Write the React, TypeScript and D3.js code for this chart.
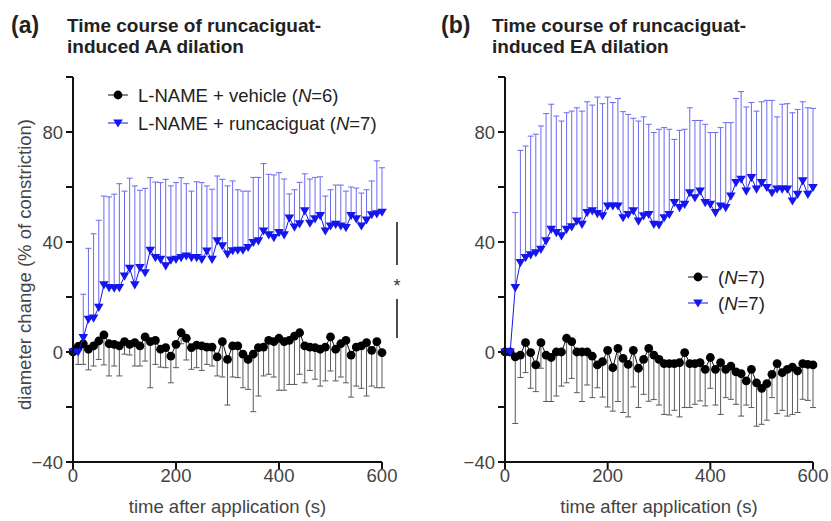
import React from 'react';
import * as d3 from 'd3';

const TIME = [0, 10, 20, 30, 40, 50, 60, 70, 80, 90, 100, 110, 120, 130, 140, 150, 160, 170, 180, 190, 200, 210, 220, 230, 240, 250, 260, 270, 280, 290, 300, 310, 320, 330, 340, 350, 360, 370, 380, 390, 400, 410, 420, 430, 440, 450, 460, 470, 480, 490, 500, 510, 520, 530, 540, 550, 560, 570, 580, 590, 600];

// Panel (a) AA
const AA_VEH_MEAN = [0, 2, 3.0, 1.0, 2.2, 4.0, 6.2, 3.0, 2.8, 2.2,
  3.8, 2.8, 3.4, 2.2, 5.5, 3.8, 4.2, 1.0, 1.6, -1.5,
  2.8, 7.0, 5.0, 1.6, 2.5, 2.2, 1.8, 1.8, -1.8, 3.8,
  -2.7, 2.2, 2.2, -0.8, -2.7, -0.8, 1.6, 1.8, 4.2, 3.8,
  5.0, 3.8, 4.2, 5.8, 7.0, 2.2, 1.8, 1.6, 1.0, 1.8,
  5.5, 1.0, 3.0, 4.2, -1.1, 1.8, 2.2, 3.4, 0.6, 3.8,
  -0.2];
const AA_VEH_LOW = [0, -4.5, -4.5, -6.5, -5.1, -2.7, -4.7, -8.7, -5.1, -8.7,
  -0.8, -1.1, -5.1, -5.1, -3.3, -13, -4.5, -5.5, -5.7, -11.2,
  -5.7, 3, -2.9, -6.3, -5.7, -6.7, -4.5, -5.1, -8.7, -9.1,
  -19.3, -9.1, -9.3, -13, -13.6, -21.7, -16, -8.7, -8.1, -9.1,
  -13.9, -13.9, -11.8, -11.8, -8.1, -11.2, -6.7, -9.9, -12.4, -10.5,
  -6.9, -10.5, -9.1, -11.2, -16.4, -12.4, -13.2, -16, -12.4, -13,
  -13];
const AA_RUN_MEAN = [0, 0, 5.2, 11.9, 12.3, 16.2, 24.4, 23.4, 23.2, 23.4,
  27.6, 30.4, 24.4, 30.7, 28.8, 37, 34.3, 33.7, 31.3, 33.4,
  33.7, 34.3, 34.9, 34.3, 34.3, 33.7, 36.7, 33.7, 40.4, 38.6,
  35.6, 36.8, 37, 37, 38, 39.8, 40.4, 44, 42.6, 41.6,
  43.4, 42.6, 48.7, 45.4, 46.6, 51.3, 46.8, 48.4, 49.6, 44,
  45.8, 46.4, 45.8, 45.2, 49.6, 48.4, 45.8, 48, 49.9, 50.2,
  50.8];
const AA_RUN_HIGH = [0, 0, 21, 37.7, 43, 47.9, 56.7, 56.4, 57.4, 61.2,
  58.5, 63.2, 60.4, 58.8, 59.5, 63.4, 61.8, 61.6, 62.8, 60.4,
  61.6, 63.4, 61.2, 58.5, 61.9, 61.6, 60.4, 59.2, 64, 62.8,
  60.4, 62.2, 59, 58.5, 58.5, 63.5, 63.5, 68.5, 64.6, 64.4,
  65.2, 62.9, 57.5, 59, 61.7, 64.8, 62.9, 63.5, 63.7, 56.7,
  59, 60.7, 60.7, 58.5, 60, 59.6, 57.8, 59, 62.2, 69.5,
  67];

// Panel (b) EA
const EA_VEH_MEAN = [0, 0, -1.8, -1.1, 3.4, -0.2, -4.7, 3.4, -1.1, -2.0,
  0, 0, 5.0, 3.8, 0, 0, 0, -1.5, -4.7, -3.5,
  0.6, -5.7, 1.3, -2.3, -4.5, 0.6, -5.9, -2.7, 1.3, -1.1,
  -2.7, -4.2, -4.2, -4.2, -3.9, -0.2, -4.2, -4.2, -3.9, -6.3,
  -2.0, -6.3, -3.9, -6.3, -5.1, -7.2, -7.9, -10.5, -6.3, -11.2,
  -13.2, -11.5, -8.1, -4.2, -7.5, -6.3, -5.5, -6.9, -4.2, -4.5,
  -4.7];
const EA_VEH_LOW = [0, 0, -26, -9.3, -7.5, -13.2, -14.4, -5.9, -18, -18,
  -16, -12.4, -11.2, -9.6, -14.8, -18, -12, -16.6, -13, -16.4,
  -20, -21.5, -18, -22, -23.6, -12.7, -20.2, -15.4, -17.9, -17.3,
  -19.3, -22.7, -22.9, -21.2, -23.6, -20.2, -20.2, -19, -17.8, -19.6,
  -13.2, -19.3, -22.7, -16.6, -17.2, -19, -23.3, -19.3, -20.2, -27,
  -26.3, -24.8, -16.6, -22.4, -21.2, -23.3, -22.7, -22, -17.2, -17.6,
  -20.2];
const EA_RUN_MEAN = [0, 0, 23.4, 32.5, 34.3, 35.3, 36.1, 37.3, 40.4, 44.6,
  43.4, 42.2, 44.6, 45.5, 47.6, 46.4, 50.7, 51.3, 50.3, 49.5,
  53.1, 53.1, 53.1, 48.8, 50, 51.3, 47.6, 49.5, 50, 46.4,
  46.2, 48.8, 50, 54.3, 52.5, 53.7, 57.9, 56.1, 58.5, 54.3,
  53.7, 50.7, 53.1, 52.5, 56.7, 61.6, 62.8, 58.5, 63.4, 59.2,
  61.6, 59.8, 57.9, 59.2, 59.2, 59.2, 54.9, 57.3, 62.2, 57.3,
  59.8];
const EA_RUN_HIGH = [0, 0, 50.7, 73.3, 74.9, 78.5, 79.2, 82.2, 86.7, 90.1,
  85.8, 84, 87, 87.6, 88.8, 87.6, 91, 89.8, 92.7, 90.3,
  92.7, 90.7, 92.2, 87.4, 86.4, 85, 84, 85.5, 82.8, 79.8,
  81, 81.6, 81, 77.3, 80.6, 81, 88.8, 84.2, 84.2, 82.8,
  79.8, 79.8, 81.6, 83.4, 83.4, 92.2, 94.7, 89.1, 90.7, 87.6,
  91, 91.5, 91.5, 85.5, 90.1, 90.3, 87, 88.2, 91, 88.8,
  88.6];

const Y_MAJOR = [-40, 0, 40, 80];
const Y_MINOR = [-20, 20, 60, 100];
const X_TICKS = [0, 200, 400, 600];

const FONT = 'Liberation Sans, Arial, Helvetica, sans-serif';
const BLUE = '#1515ee';
const BLUE_ERR = '#6a6af0';
const GREY_ERR = '#5a5a5a';

type PanelProps = {
  x0: number; x1: number;
  vehMean: number[]; vehLow: number[];
  runMean: number[]; runHigh: number[];
  letter: string; letterX: number; titleX: number;
  title1: string; title2: string;
  showYLabel: boolean;
  legend: React.ReactNode;
};

function tri(x: number, y: number, s = 4.8) {
  return `M${x - s},${y - s * 0.75} L${x + s},${y - s * 0.75} L${x},${y + s * 0.95} Z`;
}

function Panel(p: PanelProps) {
  const x = d3.scaleLinear().domain([0, 600]).range([p.x0, p.x1]);
  const y = d3.scaleLinear().domain([-40, 100]).range([462, 77]);
  const line = d3.line<number>().x((_, i) => x(TIME[i])).y((d) => y(d));
  const cap = 3;
  return (
    <g>
      <text x={p.letterX} y={33} fontFamily={FONT} fontWeight="bold" fontSize={23} fill="#222">{p.letter}</text>
      <text x={p.titleX} y={32} fontFamily={FONT} fontWeight="bold" fontSize={19} fill="#222">{p.title1}</text>
      <text x={p.titleX} y={53} fontFamily={FONT} fontWeight="bold" fontSize={19} fill="#222">{p.title2}</text>

      {TIME.map((t, i) => p.vehLow[i] < p.vehMean[i] ? (
        <g key={'ve' + i} stroke={GREY_ERR} strokeWidth={1}>
          <line x1={x(t)} x2={x(t)} y1={y(p.vehMean[i])} y2={y(p.vehLow[i])} />
          <line x1={x(t) - cap} x2={x(t) + cap} y1={y(p.vehLow[i])} y2={y(p.vehLow[i])} />
        </g>
      ) : null)}
      {TIME.map((t, i) => p.runHigh[i] > p.runMean[i] ? (
        <g key={'re' + i} stroke={BLUE_ERR} strokeWidth={1}>
          <line x1={x(t)} x2={x(t)} y1={y(p.runMean[i])} y2={y(p.runHigh[i])} />
          <line x1={x(t) - cap} x2={x(t) + cap} y1={y(p.runHigh[i])} y2={y(p.runHigh[i])} />
        </g>
      ) : null)}

      <path d={line(p.vehMean) || ''} fill="none" stroke="#111" strokeWidth={1} />
      {TIME.map((t, i) => (
        <circle key={'vm' + i} cx={x(t)} cy={y(p.vehMean[i])} r={4.4} fill="#000" />
      ))}
      <path d={line(p.runMean) || ''} fill="none" stroke={BLUE} strokeWidth={1} />
      {TIME.map((t, i) => (
        <path key={'rm' + i} d={tri(x(t), y(p.runMean[i]))} fill={BLUE} />
      ))}

      <line x1={p.x0} x2={p.x0} y1={y(100)} y2={y(-40)} stroke="#111" strokeWidth={2} />
      {Y_MAJOR.concat(Y_MINOR).map((v) => (
        <line key={'yt' + v} x1={p.x0 - 7} x2={p.x0} y1={y(v)} y2={y(v)} stroke="#111" strokeWidth={2} />
      ))}
      {Y_MAJOR.map((v) => (
        <text key={'yl' + v} x={p.x0 - 10} y={y(v) + 6.5} textAnchor="end" fontFamily={FONT} fontSize={18.5} fill="#444">
          {v < 0 ? '\u2212' + Math.abs(v) : v}
        </text>
      ))}
      <line x1={p.x0} x2={x(600)} y1={y(-40)} y2={y(-40)} stroke="#111" strokeWidth={2} />
      {X_TICKS.map((v) => (
        <line key={'xt' + v} x1={x(v)} x2={x(v)} y1={y(-40)} y2={y(-40) + 7} stroke="#111" strokeWidth={2} />
      ))}
      {X_TICKS.map((v) => (
        <text key={'xl' + v} x={x(v)} y={482} textAnchor="middle" fontFamily={FONT} fontSize={18.5} fill="#444">{v}</text>
      ))}
      <text x={(x(0) + x(600)) / 2} y={513} textAnchor="middle" fontFamily={FONT} fontSize={18.5} fill="#444">
        time after application (s)
      </text>
      {p.showYLabel && (
        <text transform={`translate(31,${(y(100) + y(-40)) / 2 - 5}) rotate(-90)`} textAnchor="middle" fontFamily={FONT} fontSize={18.5} fill="#444">
          diameter change (% of constriction)
        </text>
      )}
      {p.legend}
    </g>
  );
}

function LegendRow({ x, y, kind, children }: { x: number; y: number; kind: 'veh' | 'run'; children: React.ReactNode }) {
  return (
    <g>
      <line x1={x - 10} x2={x + 10} y1={y} y2={y} stroke={kind === 'veh' ? '#111' : BLUE} strokeWidth={1} />
      {kind === 'veh' ? <circle cx={x} cy={y} r={4.4} fill="#000" /> : <path d={tri(x, y)} fill={BLUE} />}
      <text x={x + 20} y={y + 6.5} fontFamily={FONT} fontSize={18.5} fill="#222">{children}</text>
    </g>
  );
}

export default function App() {
  const legendA = (
    <g>
      <LegendRow x={118} y={95} kind="veh">L-NAME + vehicle (<tspan fontStyle="italic">N</tspan>=6)</LegendRow>
      <LegendRow x={118} y={123} kind="run">L-NAME + runcaciguat (<tspan fontStyle="italic">N</tspan>=7)</LegendRow>
      <line x1={397} x2={397} y1={222} y2={265} stroke="#111" strokeWidth={1.5} />
      <text x={397} y={292} textAnchor="middle" fontFamily={FONT} fontSize={18} fill="#333">*</text>
      <line x1={397} x2={397} y1={299} y2={338} stroke="#111" strokeWidth={1.5} />
    </g>
  );
  const legendB = (
    <g>
      <LegendRow x={698} y={277} kind="veh">(<tspan fontStyle="italic">N</tspan>=7)</LegendRow>
      <LegendRow x={698} y={303} kind="run">(<tspan fontStyle="italic">N</tspan>=7)</LegendRow>
    </g>
  );
  return (
    <svg width={831} height={521} style={{ position: 'absolute', left: 0, top: 0, background: '#fff' }}>
      <rect width={831} height={521} fill="#fff" />
      <Panel x0={73} x1={382} vehMean={AA_VEH_MEAN} vehLow={AA_VEH_LOW} runMean={AA_RUN_MEAN} runHigh={AA_RUN_HIGH}
        letter="(a)" letterX={11} titleX={67} title1="Time course of runcaciguat-" title2="induced AA dilation"
        showYLabel={true} legend={legendA} />
      <Panel x0={505} x1={813} vehMean={EA_VEH_MEAN} vehLow={EA_VEH_LOW} runMean={EA_RUN_MEAN} runHigh={EA_RUN_HIGH}
        letter="(b)" letterX={441} titleX={492} title1="Time course of runcaciguat-" title2="induced EA dilation"
        showYLabel={false} legend={legendB} />
    </svg>
  );
}
